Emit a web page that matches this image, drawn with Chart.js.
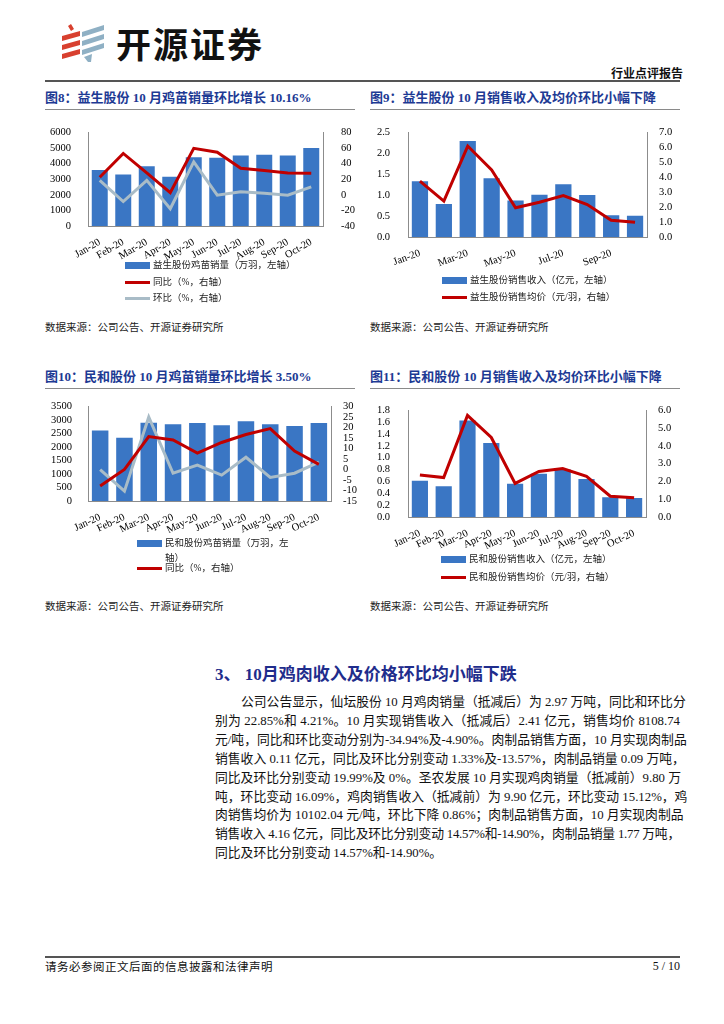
<!DOCTYPE html>
<html><head><meta charset="utf-8">
<script src="https://cdn.jsdelivr.net/npm/chart.js@4.4.0/dist/chart.umd.min.js"></script>
<style>
body{margin:0;width:724px;height:1024px;background:#fff;position:relative;overflow:hidden;font-family:"Liberation Serif","Noto Sans CJK SC",serif;color:#111;}
.abs{position:absolute;}
.ctitle{position:absolute;font-size:13px;font-weight:bold;color:#1d3a94;white-space:nowrap;line-height:16px;font-family:"Liberation Serif","Noto Sans CJK SC",serif;}
.uline{position:absolute;height:1px;background:#8a8a8a;}
.src{position:absolute;font-size:10.5px;color:#222;font-family:"Noto Sans CJK SC",sans-serif;white-space:nowrap;line-height:12px;}
.leg{position:absolute;font-size:9.5px;color:#222;font-family:"Liberation Serif","Noto Sans CJK SC",sans-serif;line-height:15px;}
.leg .sw{position:absolute;left:0;width:25px;}
.leg .tx{position:absolute;left:28px;white-space:nowrap;}
.body{position:absolute;left:215px;width:465px;font-size:12.8px;line-height:18.9px;color:#111;font-family:"Liberation Serif","Noto Sans CJK SC",serif;}
.body div{text-align:justify;text-align-last:justify;white-space:nowrap;}
canvas{position:absolute;}
</style></head><body>
<script>
// ---------------- data ----------------
const months = ['Jan-20','Feb-20','Mar-20','Apr-20','May-20','Jun-20','Jul-20','Aug-20','Sep-20','Oct-20'];
// 图8 益生股份鸡苗
const ysVolume = [3590,3290,3820,3160,4410,4370,4520,4560,4520,4990];
const ysYoY    = [22.5,52.9,28,2.8,59.5,54.5,34,31,27.8,27.4];
const ysMoM    = [18.4,-8.7,18.4,-17.8,42.2,-0.5,4,2,-0.5,10.16];
// 图9 益生股份收入/均价
const ysRevenue = [1.33,0.79,2.29,1.40,0.87,1.01,1.26,1.00,0.52,0.51];
const ysPrice   = [3.74,2.40,6.08,4.49,1.95,2.32,2.77,2.17,1.12,0.99];
// 图10 民和股份鸡苗
const mhVolume = [2607,2341,2896,2836,2884,2800,2945,2836,2776,2884];
const mhYoY    = [-7.9,0,15.6,14,7.8,12.8,16.6,19.4,8.7,2.4];
const mhMoM    = [-0.1,-10.3,24.9,-1.8,2.1,-2.7,5.8,-3.8,-1.8,3.5];
// 图11 民和股份收入/均价
const mhRevenue = [0.61,0.52,1.63,1.25,0.56,0.73,0.80,0.64,0.335,0.32];
const mhPrice   = [2.36,2.22,5.71,4.47,1.89,2.56,2.72,2.29,1.17,1.08];
// labels
const ysVolLabels = ['益生股份鸡苗销量（万羽，左轴）','同比（%，右轴）','环比（%，右轴）'];
const ysRevLabels = ['益生股份销售收入（亿元，左轴）','益生股份销售均价（元/羽，右轴）'];
const mhVolLabels = ['民和股份鸡苗销量（万羽，左轴）','同比（%，右轴）','环比（%，右轴）'];
const mhRevLabels = ['民和股份销售收入（亿元，左轴）','民和股份销售均价（元/羽，右轴）'];
</script>

<!-- header -->
<svg class="abs" style="left:58px;top:24px" width="52" height="40" viewBox="0 0 52 40">
  <polygon points="10,2 13,0 16,5 13,7" fill="#d8402f"/>
  <polygon points="4,12 22,7 22,12 4,17" fill="#d8402f"/>
  <polygon points="4,21 22,16 22,21 4,26" fill="#d8402f"/>
  <polygon points="4,30 22,25 22,30 4,35" fill="#d8402f"/>
  <polygon points="24,8 46,1 46,6 24,13" fill="#8fb0c4"/>
  <polygon points="24,17 46,10 46,15 24,22" fill="#8fb0c4"/>
  <polygon points="24,26 46,19 46,24 24,31" fill="#8fb0c4"/>
  <polygon points="26,33 34,30 33,38 30,38" fill="#8fb0c4"/>
</svg>
<div class="abs" style="left:116px;top:21px;font-size:35px;font-weight:bold;letter-spacing:2px;font-family:'Noto Sans CJK SC',sans-serif;color:#111;line-height:44px;">开源证券</div>
<div class="abs" style="left:611px;top:65px;font-size:12px;font-weight:bold;font-family:'Noto Sans CJK SC',sans-serif;line-height:15px;">行业点评报告</div>
<div class="abs" style="left:45px;top:80px;width:635px;height:2px;background:#555;"></div>

<!-- chart titles -->
<div class="ctitle" style="left:45px;top:90px;">图8：益生股份 10 月鸡苗销量环比增长 10.16%</div>
<div class="uline" style="left:45px;top:109px;width:310px;"></div>
<div class="ctitle" style="left:370px;top:90px;">图9：益生股份 10 月销售收入及均价环比小幅下降</div>
<div class="uline" style="left:370px;top:109px;width:310px;"></div>
<div class="ctitle" style="left:45px;top:369px;">图10：民和股份 10 月鸡苗销量环比增长 3.50%</div>
<div class="uline" style="left:45px;top:388px;width:310px;"></div>
<div class="ctitle" style="left:370px;top:369px;">图11：民和股份 10 月销售收入及均价环比小幅下降</div>
<div class="uline" style="left:370px;top:388px;width:310px;"></div>

<canvas id="c8" width="310" height="150" style="left:45px;top:116px;"></canvas>
<canvas id="c9" width="310" height="156" style="left:370px;top:116px;"></canvas>
<canvas id="c10" width="316" height="148" style="left:45px;top:392px;"></canvas>
<canvas id="c11" width="310" height="160" style="left:370px;top:394px;"></canvas>

<div id="legends"></div>

<div class="src" style="left:45px;top:321px;">数据来源：公司公告、开源证券研究所</div>
<div class="src" style="left:370px;top:321px;">数据来源：公司公告、开源证券研究所</div>
<div class="src" style="left:45px;top:600px;">数据来源：公司公告、开源证券研究所</div>
<div class="src" style="left:370px;top:600px;">数据来源：公司公告、开源证券研究所</div>

<!-- section -->
<div class="abs" style="left:215px;top:664px;font-size:17px;font-weight:bold;color:#1f2d8c;line-height:22px;font-family:'Liberation Serif','Noto Sans CJK SC',serif;white-space:nowrap;">3、 10月鸡肉收入及价格环比均小幅下跌</div>
<div class="body" style="top:693px;">
<div style="padding-left:26px;">公司公告显示，仙坛股份 10 月鸡肉销量（抵减后）为 2.97 万吨，同比和环比分</div>
<div>别为 22.85%和 4.21%。10 月实现销售收入（抵减后）2.41 亿元，销售均价 8108.74</div>
<div>元/吨，同比和环比变动分别为-34.94%及-4.90%。肉制品销售方面，10 月实现肉制品</div>
<div>销售收入 0.11 亿元，同比及环比分别变动 1.33%及-13.57%，肉制品销量 0.09 万吨，</div>
<div>同比及环比分别变动 19.99%及 0%。圣农发展 10 月实现鸡肉销量（抵减前）9.80 万</div>
<div>吨，环比变动 16.09%，鸡肉销售收入（抵减前）为 9.90 亿元，环比变动 15.12%，鸡</div>
<div>肉销售均价为 10102.04 元/吨，环比下降 0.86%；肉制品销售方面，10 月实现肉制品</div>
<div style="letter-spacing:-0.25px;">销售收入 4.16 亿元，同比及环比分别变动 14.57%和-14.90%，肉制品销量 1.77 万吨，</div>
<div style="text-align-last:left;">同比及环比分别变动 14.57%和-14.90%。</div>
</div>

<!-- footer -->
<div class="abs" style="left:45px;top:956px;width:635px;height:2px;background:#555;"></div>
<div class="abs" style="left:45px;top:959px;font-size:11.5px;font-family:'Noto Sans CJK SC',sans-serif;line-height:15px;letter-spacing:0.5px;">请务必参阅正文后面的信息披露和法律声明</div>
<div class="abs" style="left:620px;top:959px;width:60px;text-align:right;font-size:12px;line-height:15px;">5 / 10</div>

<script>
const BLUE = '#3a76c4', RED = '#c00000', GRAY = '#a9bcc7', AXIS = '#8c8c8c';
const tickFont = {family:'Liberation Serif', size:10.5};

function axisY(pos, min, max, step, width, dec, pad){
  return {
    position: pos, min: min, max: max,
    grid: {display:false},
    border: {display:true, color:AXIS, width:1},
    ticks: {stepSize: step, autoSkip:false, maxTicksLimit:100, font: tickFont, color:'#000', padding: pad,
      callback: v => dec ? Number(v).toFixed(dec) : String(Math.round(v))},
    afterFit: s => { s.width = width; }
  };
}
function makeChart(id, opts){
  const xTicks = {font: tickFont, color:'#000', minRotation: opts.rot, maxRotation: opts.rot, autoSkip:false, padding:2};
  if (opts.every) xTicks.callback = function(v, i){ return i % opts.every === 0 ? this.getLabelForValue(v) : ''; };
  return new Chart(document.getElementById(id), {
    data: {labels: months, datasets: opts.datasets},
    options: {
      responsive:false, animation:false, devicePixelRatio:1,
      layout:{padding:{top: opts.top, left:0, right:0, bottom:0}},
      plugins:{legend:{display:false}, tooltip:{enabled:false}},
      scales:{
        x:{grid:{display:false}, border:{display:true,color:AXIS,width:1}, offset:true, ticks:xTicks,
           afterFit: s => { s.height = opts.xh; }},
        y: axisY('left', opts.l[0], opts.l[1], opts.l[2], opts.lw, opts.l[3], opts.lp),
        y1: axisY('right', opts.r[0], opts.r[1], opts.r[2], opts.rw, opts.r[3], opts.rp)
      }
    }
  });
}
function bar(label, data){ return {type:'bar', label, data, backgroundColor:BLUE, yAxisID:'y', order:5, barPercentage:0.68, categoryPercentage:1}; }
function line(label, data, color, ord){ return {type:'line', label, data, borderColor:color, backgroundColor:color, borderWidth:3, pointRadius:0, tension:0, yAxisID:'y1', order:ord}; }

makeChart('c8', {top:12, xh:40, lw:43, rw:32, lp:9, rp:10, rot:30,
  l:[0,6000,1000,0], r:[-40,80,20,0],
  datasets:[bar(ysVolLabels[0], ysVolume), line(ysVolLabels[1], ysYoY, RED, 0), line(ysVolLabels[2], ysMoM, GRAY, 1)]});
makeChart('c9', {top:12, xh:35, lw:38, rw:33, lp:10, rp:4, rot:20, every:2,
  l:[0,2.5,0.5,1], r:[0,7,1,1],
  datasets:[bar(ysRevLabels[0], ysRevenue), line(ysRevLabels[1], ysPrice, RED, 0)]});
makeChart('c10', {top:12, xh:39, lw:43, rw:30, lp:8, rp:4, rot:25,
  l:[0,3500,500,0], r:[-15,30,5,0],
  datasets:[bar(mhVolLabels[0], mhVolume), line(mhVolLabels[1], mhYoY, RED, 0), line(mhVolLabels[2], mhMoM, GRAY, 1)]});
makeChart('c11', {top:12, xh:37, lw:38, rw:34, lp:10, rp:4, rot:25,
  l:[0,1.8,0.2,1], r:[0,6,1,1],
  datasets:[bar(mhRevLabels[0], mhRevenue), line(mhRevLabels[1], mhPrice, RED, 0)]});

// legends (HTML, built from dataset labels)
const legendSpecs = [
  {x:125, rows:[[265,'bar',ysVolLabels[0]],[282,RED,ysVolLabels[1]],[298,GRAY,ysVolLabels[2]]]},
  {x:442, rows:[[280,'bar',ysRevLabels[0]],[297,RED,ysRevLabels[1]]]},
  {x:137, rows:[[543,'bar',mhVolLabels[0],128],[568,RED,mhVolLabels[1]]]},
  {x:441, rows:[[559,'bar',mhRevLabels[0]],[577,RED,mhRevLabels[1]]]}
];
const host = document.getElementById('legends');
legendSpecs.forEach(sp => sp.rows.forEach(r => {
  const d = document.createElement('div'); d.className='leg';
  d.style.left = sp.x+'px'; d.style.top = (r[0]-7.5)+'px';
  const sw = document.createElement('div'); sw.className='sw';
  if (r[1]==='bar'){ sw.style.background=BLUE; sw.style.height='7px'; sw.style.top='4px'; }
  else { sw.style.background=r[1]; sw.style.height='3px'; sw.style.top='6px'; }
  const tx = document.createElement('div'); tx.className='tx'; tx.textContent = r[2];
  if (r[3]){ tx.style.whiteSpace='normal'; tx.style.width=r[3]+'px'; }
  d.appendChild(sw); d.appendChild(tx); host.appendChild(d);
}));
</script>
</body></html>
